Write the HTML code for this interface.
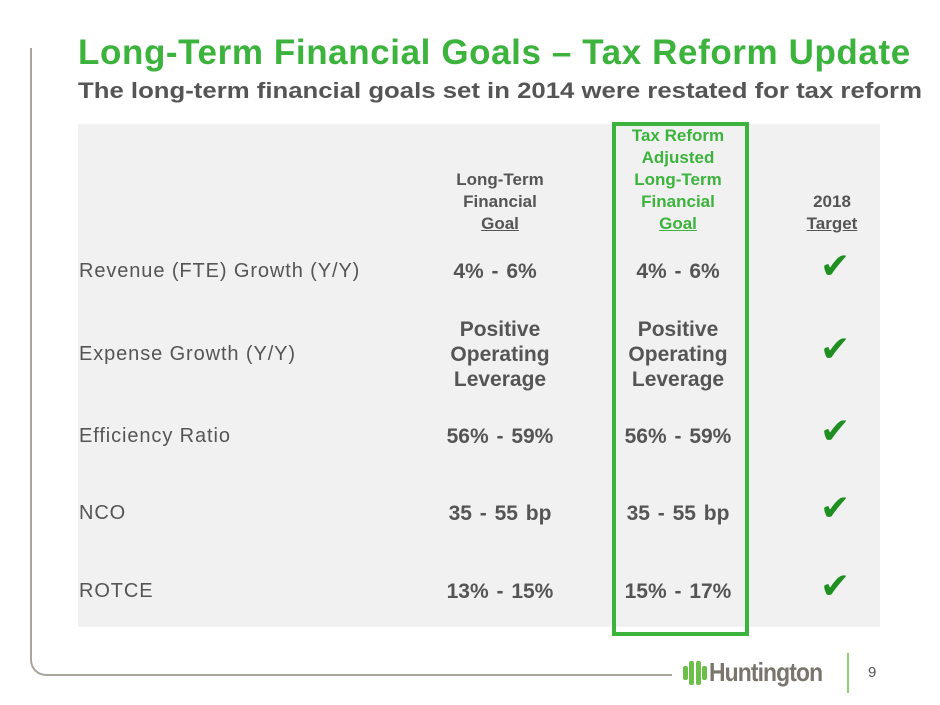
<!DOCTYPE html>
<html><head><style>
body{margin:0;width:940px;height:705px;background:#fff;position:relative;overflow:hidden;font-family:"Liberation Sans",Arial,sans-serif}
.a{position:absolute;white-space:nowrap}
.h{font-size:17px;font-weight:bold;color:#555;text-align:center;line-height:22px}
.g{color:#3cb33c}
.l{font-size:20px;color:#555;left:79px;letter-spacing:0.9px}
.d{font-size:21px;font-weight:bold;color:#555;text-align:center;width:160px;line-height:25px;word-spacing:2px}
.ck{font-size:36px;color:#1f8f22;font-family:"DejaVu Sans",sans-serif;left:820px}
u{text-decoration:underline}
</style></head><body>
<div class="a" style="left:30px;top:48px;width:640px;height:626px;border-left:2px solid #aaa59b;border-bottom:2px solid #aaa59b;border-bottom-left-radius:16px"></div>
<div class="a" style="left:78px;top:33px;font-size:35px;font-weight:bold;color:#3cb33c;letter-spacing:0.6px">Long-Term Financial Goals – Tax Reform Update</div>
<div class="a" style="left:78px;top:78px;font-size:22px;font-weight:bold;color:#555;transform:scaleX(1.17);transform-origin:left">The long-term financial goals set in 2014 were restated for tax reform</div>
<div class="a" style="left:78px;top:124px;width:802px;height:503px;background:#f1f1f1"></div>
<div class="a" style="left:612px;top:122px;width:129px;height:506px;border:4px solid #3cb33c"></div>
<div class="a h" style="left:420px;top:169px;width:160px">Long-Term<br>Financial<br><u>Goal</u></div>
<div class="a h g" style="left:598px;top:125px;width:160px">Tax Reform<br>Adjusted<br>Long-Term<br>Financial<br><u>Goal</u></div>
<div class="a h" style="left:752px;top:191px;width:160px">2018<br><u>Target</u></div>
<div class="a l" style="top:260px">Revenue (FTE) Growth (Y/Y)</div>
<div class="a l" style="top:343px">Expense Growth (Y/Y)</div>
<div class="a l" style="top:425px">Efficiency Ratio</div>
<div class="a l" style="top:502px">NCO</div>
<div class="a l" style="top:580px">ROTCE</div>
<div class="a d" style="left:415px;top:259px">4% - 6%</div>
<div class="a d g" style="left:598px;top:259px">4% - 6%</div>
<div class="a d" style="left:420px;top:317px">Positive<br>Operating<br>Leverage</div>
<div class="a d g" style="left:598px;top:317px">Positive<br>Operating<br>Leverage</div>
<div class="a d" style="left:420px;top:424px">56% - 59%</div>
<div class="a d g" style="left:598px;top:424px">56% - 59%</div>
<div class="a d" style="left:420px;top:501px">35 - 55 bp</div>
<div class="a d g" style="left:598px;top:501px">35 - 55 bp</div>
<div class="a d" style="left:420px;top:579px">13% - 15%</div>
<div class="a d g" style="left:598px;top:579px">15% - 17%</div>
<div class="a ck" style="top:246px">✔</div>
<div class="a ck" style="top:329px">✔</div>
<div class="a ck" style="top:411px">✔</div>
<div class="a ck" style="top:488px">✔</div>
<div class="a ck" style="top:566px">✔</div>
<svg class="a" style="left:683px;top:660px" width="24" height="26"><g fill="#6cc04a"><rect x="0" y="6" width="5" height="14" rx="2"/><rect x="19" y="6" width="5" height="14" rx="2"/><rect x="6" y="1" width="5" height="24" rx="2"/><rect x="13" y="1" width="5" height="24" rx="2"/></g></svg>
<div class="a" style="left:709px;top:657px;font-size:26px;font-weight:bold;color:#7a756c;letter-spacing:-1px;transform:scaleX(0.88);transform-origin:left">Huntington</div>
<div class="a" style="left:847px;top:653px;width:2px;height:40px;background:#8fcf6f"></div>
<div class="a" style="left:868px;top:664px;font-size:15px;color:#555">9</div>
</body></html>
